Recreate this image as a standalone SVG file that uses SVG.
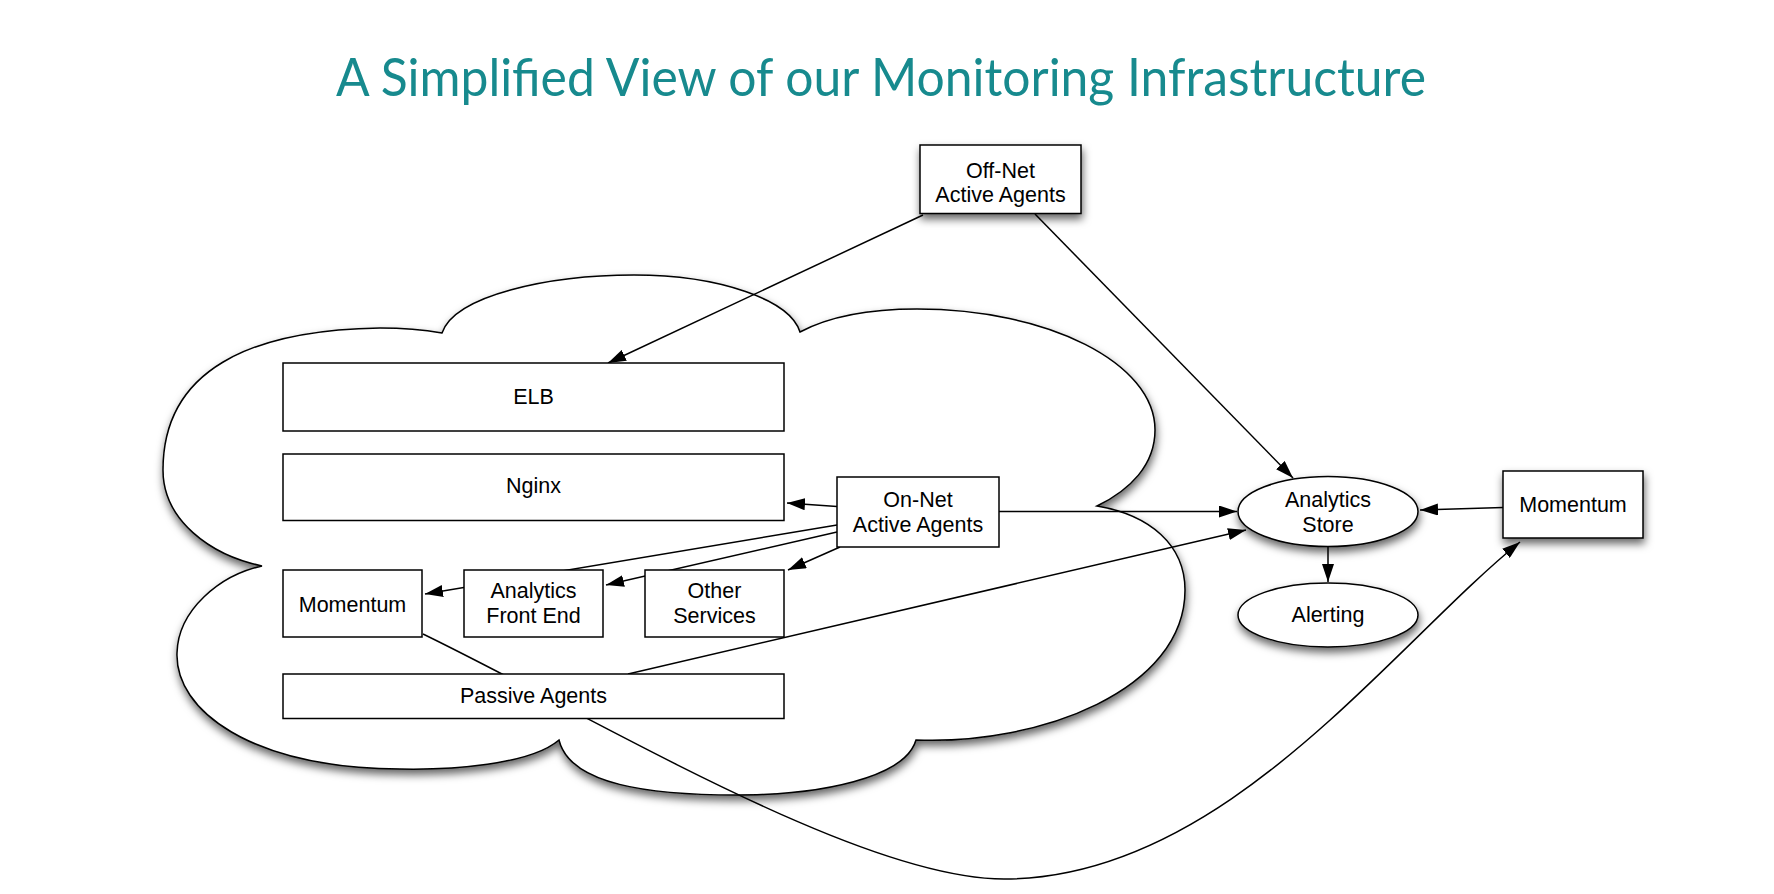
<svg xmlns="http://www.w3.org/2000/svg" width="1774" height="894" viewBox="0 0 1774 894">
<style>
.title{font-family:Lato,"Open Sans","Liberation Sans",sans-serif;font-size:52px;fill:#178a8e}
.lbl{font-family:"Liberation Sans",Arial,sans-serif;font-size:21.5px;fill:#000;text-anchor:middle}
.box{fill:#fff;stroke:#000;stroke-width:1.5}
.cl{fill:none;stroke:#000;stroke-width:1.5}
</style>
<defs>
<filter id="sh" x="-10%" y="-10%" width="130%" height="140%">
<feDropShadow dx="1" dy="5" stdDeviation="4" flood-color="#000" flood-opacity="0.6"/>
</filter>
<marker id="ah" markerUnits="userSpaceOnUse" markerWidth="18" markerHeight="12" refX="18" refY="6" orient="auto" viewBox="0 0 18 12">
<path d="M0,0 L18,6 L0,12 z" fill="#000"/>
</marker>
</defs>
<rect width="1774" height="894" fill="#fff"/>
<text class="title" x="336" y="96" textLength="1090" lengthAdjust="spacingAndGlyphs">A Simplified View of our Monitoring Infrastructure</text>

<g id="cloud">
<path class="box" filter="url(#sh)" d="M442,333 C455,295 550,275 634,275 C720,275 790,300 800,332 C830,316 870,309 917,309 C1048,309 1155,363 1155,430 C1155,465 1130,490 1097,506 C1150,515 1185,545 1185,590 C1185,690 1040,745 916,740 C905,778 820,795 737,795 C650,795 570,785 559,740 C530,765 450,770 400,769 C250,768 175,710 177,653 C178,610 220,575 262,566 C210,555 163,520 163,470 C163,370 250,330 380,328 C405,328 425,330 442,333 Z"/>
</g>

<g id="connectors" class="cl">
<path d="M923,215 L608,363" marker-end="url(#ah)"/>
<path d="M1035,214 L1293,478" marker-end="url(#ah)"/>
<path d="M837,506.5 L787,503" marker-end="url(#ah)"/>
<path d="M837,525 L425,594" marker-end="url(#ah)"/>
<path d="M837,532 L606,585" marker-end="url(#ah)"/>
<path d="M840,547 L788,570" marker-end="url(#ah)"/>
<path d="M999,511.5 L1237,511.5" marker-end="url(#ah)"/>
<path d="M628,674 L1246,530" marker-end="url(#ah)"/>
<path d="M1503,507.5 L1420,510" marker-end="url(#ah)"/>
<path d="M1328,547 L1328,582" marker-end="url(#ah)"/>
<path d="M423,634 C600,720 860,879 1004,879 C1224,879 1390,647 1520,542" marker-end="url(#ah)"/>
</g>

<g id="elb"><rect class="box" x="283" y="363" width="501" height="68"/><text class="lbl" x="533.5" y="404">ELB</text></g>
<g id="nginx"><rect class="box" x="283" y="454" width="501" height="66.5"/><text class="lbl" x="533.5" y="493">Nginx</text></g>
<g id="momentum-inner"><rect class="box" x="283" y="570" width="139" height="67"/><text class="lbl" x="352.5" y="611.5">Momentum</text></g>
<g id="analytics-front-end"><rect class="box" x="464" y="570" width="139" height="67"/><text class="lbl" x="533.5" y="598">Analytics</text><text class="lbl" x="533.5" y="623">Front End</text></g>
<g id="other-services"><rect class="box" x="645" y="570" width="139" height="67"/><text class="lbl" x="714.5" y="598">Other</text><text class="lbl" x="714.5" y="623">Services</text></g>
<g id="passive-agents"><rect class="box" x="283" y="674" width="501" height="44.5"/><text class="lbl" x="533.5" y="703">Passive Agents</text></g>
<g id="on-net"><rect class="box" x="837" y="477" width="162" height="70"/><text class="lbl" x="918" y="507">On-Net</text><text class="lbl" x="918" y="532">Active Agents</text></g>
<g id="off-net"><rect class="box" filter="url(#sh)" x="920" y="145" width="161" height="68.5"/><text class="lbl" x="1000.5" y="178">Off-Net</text><text class="lbl" x="1000.5" y="202">Active Agents</text></g>
<g id="analytics-store"><ellipse class="box" filter="url(#sh)" cx="1328" cy="511.5" rx="90" ry="35"/><text class="lbl" x="1328" y="506.5">Analytics</text><text class="lbl" x="1328" y="531.5">Store</text></g>
<g id="alerting"><ellipse class="box" filter="url(#sh)" cx="1328" cy="615" rx="90" ry="32"/><text class="lbl" x="1328" y="621.5">Alerting</text></g>
<g id="momentum"><rect class="box" filter="url(#sh)" x="1503" y="471" width="140" height="67"/><text class="lbl" x="1573" y="511.5">Momentum</text></g>
</svg>
